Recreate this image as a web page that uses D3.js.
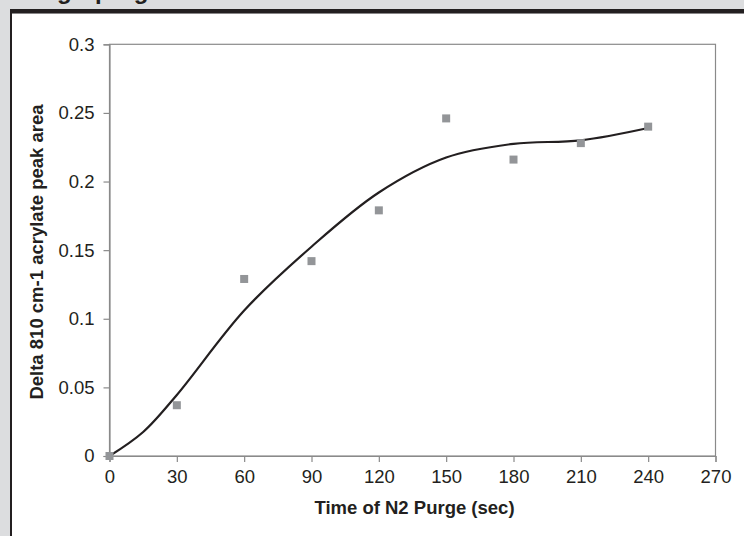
<!DOCTYPE html>
<html>
<head>
<meta charset="utf-8">
<script src="https://cdn.jsdelivr.net/npm/d3@7"></script>
<style>
	html, body { margin: 0; padding: 0; background: #dcdddf; }
	svg { display: block; font-family: "Liberation Sans", Arial, sans-serif; }
</style>
</head>
<body>
<svg id="chart" width="744" height="536"></svg>
<script>
"use strict";

// measured points (time in s, delta peak area)
const purgeTimes = [0, 30, 60, 90, 120, 150, 180, 210, 240];
const peakArea = [0, 0.037, 0.129, 0.142, 0.179, 0.246, 0.216, 0.228, 0.240];

// trend line
const trendTimes = [0, 15, 30, 60, 90, 120, 150, 180, 210, 240];
const trendArea = [0, 0.0175, 0.0445, 0.106, 0.1525, 0.192, 0.2175, 0.2275, 0.2300, 0.239];

const xTicks = [0, 30, 60, 90, 120, 150, 180, 210, 240, 270];
const yTicks = [0, 0.05, 0.1, 0.15, 0.2, 0.25, 0.3];
const yTickLabels = ['0', '0.05', '0.1', '0.15', '0.2', '0.25', '0.3'];

const xTitle = 'Time of N2 Purge (sec)';
const yTitle = 'Delta 810 cm-1 acrylate peak area';

(() => {
	const svg = d3.select('#chart');
	const W = 744, H = 536;

	// page frame: grey margin, dark rule on top and left, white panel
	svg.append('rect').attr('x', 0).attr('y', 0).attr('width', W).attr('height', H).attr('fill', '#dcdddf');
	svg.append('rect').attr('x', 12).attr('y', 13.5).attr('width', W - 12).attr('height', H - 13.5).attr('fill', '#fff');
	svg.append('rect').attr('x', 10).attr('y', 9).attr('width', W - 10).attr('height', 4.5).attr('fill', '#231f20');
	svg.append('rect').attr('x', 10).attr('y', 9).attr('width', 2).attr('height', H - 9).attr('fill', '#231f20');

	// heading cut off by the top edge
	const head = svg.append('text')
		.attr('y', -1)
		.attr('font-size', 24)
		.attr('font-weight', 'bold')
		.attr('fill', '#231f20');
	head.append('tspan').attr('x', 57).text('g');
	head.append('tspan').attr('x', 95).text('purge');

	const x = d3.scaleLinear().domain([0, 270]).range([109.5, 715.5]);
	const y = d3.scaleLinear().domain([0, 0.3]).range([456, 44.3]);
	const axisColor = '#8a8a8a';

	// plot border
	svg.append('rect')
		.attr('x', x(0)).attr('y', y(0.3))
		.attr('width', x(270) - x(0)).attr('height', y(0) - y(0.3))
		.attr('fill', 'none').attr('stroke', axisColor).attr('stroke-width', 1.2);

	const gx = svg.append('g')
		.attr('transform', `translate(0,${y(0)})`)
		.call(d3.axisBottom(x).tickValues(xTicks).tickSize(6).tickPadding(8).tickFormat(d3.format('d')));
	const gy = svg.append('g')
		.attr('transform', `translate(${x(0)},0)`)
		.call(d3.axisLeft(y).tickValues(yTicks).tickSize(6).tickPadding(9)
			.tickFormat((d, i) => yTickLabels[i]));

	[gx, gy].forEach((g) => {
		g.selectAll('path, line').attr('stroke', axisColor).attr('stroke-width', 1.2);
		g.selectAll('text')
			.attr('font-family', '"Liberation Sans", Arial, sans-serif')
			.attr('font-size', 18.5)
			.attr('fill', '#231f20');
	});

	// trend line
	const line = d3.line()
		.x((d) => x(d[0]))
		.y((d) => y(d[1]))
		.curve(d3.curveCatmullRom);
	svg.append('path')
		.datum(trendTimes.map((t, i) => [t, trendArea[i]]))
		.attr('d', line)
		.attr('fill', 'none')
		.attr('stroke', '#231f20')
		.attr('stroke-width', 2.2);

	// data squares
	svg.append('g').selectAll('rect')
		.data(purgeTimes.map((t, i) => [t, peakArea[i]]))
		.join('rect')
		.attr('x', (d) => x(d[0]) - 4)
		.attr('y', (d) => y(d[1]) - 4)
		.attr('width', 8)
		.attr('height', 8)
		.attr('fill', '#939598');

	svg.append('text')
		.attr('x', (x(0) + x(270)) / 2 + 2)
		.attr('y', 514)
		.attr('text-anchor', 'middle')
		.attr('font-size', 18.5)
		.attr('font-weight', 'bold')
		.attr('fill', '#231f20')
		.text(xTitle);

	svg.append('text')
		.attr('transform', 'translate(43,252) rotate(-90)')
		.attr('text-anchor', 'middle')
		.attr('font-size', 18.5)
		.attr('font-weight', 'bold')
		.attr('fill', '#231f20')
		.text(yTitle);
})();
</script>
</body>
</html>
